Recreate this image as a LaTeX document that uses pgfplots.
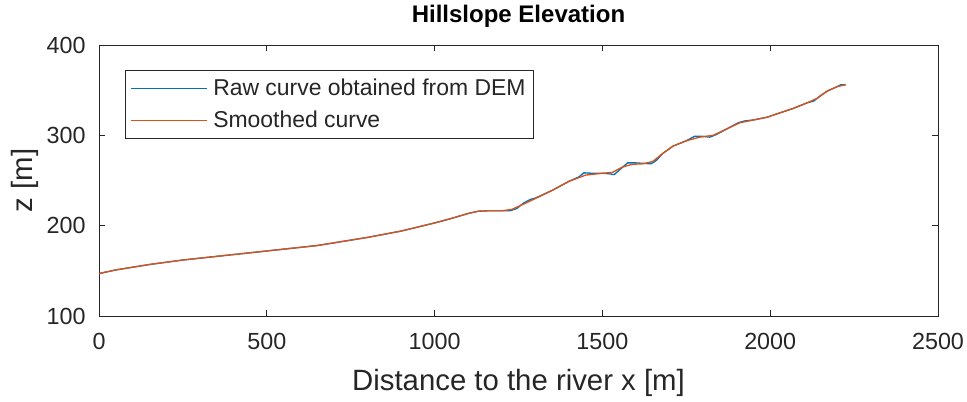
\documentclass[border=0pt]{standalone}
\usepackage{fontspec}
\setmainfont{Liberation Sans}
\usepackage{pgfplots}
\pgfplotsset{compat=1.18}
\definecolor{mblue}{rgb}{0,0.447,0.741}
\definecolor{morange}{rgb}{0.85,0.325,0.098}
\definecolor{mgray}{rgb}{0.15,0.15,0.15}
\begin{document}
\begin{tikzpicture}
\useasboundingbox (-74.25pt,-63.75pt) rectangle (651pt,237pt);
\begin{axis}[
  at={(0pt,0pt)}, anchor=south west,
  scale only axis, width=629.25pt, height=203.25pt,
  xmin=0, xmax=2500, ymin=100, ymax=400,
  xtick={0,500,...,2500}, ytick={100,200,300,400},
  tick align=inside, major tick length=4.5pt,
  axis line style={mgray, line width=0.6pt},
  tick style={mgray, line width=0.6pt},
  /pgf/number format/assume math mode=true,
  /pgf/number format/1000 sep={},
  ticklabel style={font=\fontsize{17.5}{20}\selectfont, text=mgray},
  xticklabel style={yshift=-9.5pt},
  yticklabel style={xshift=-6.5pt},
  xlabel={Distance to the river x [m]},
  ylabel={z [m]},
  xlabel style={font=\fontsize{22}{24}\selectfont, text=mgray, at={(axis description cs:0.5,0)}, anchor=center, yshift=-50.5pt},
  ylabel style={font=\fontsize{22}{24}\selectfont, text=mgray, at={(axis description cs:0,0.5)}, anchor=center, yshift=55.5pt},
  every axis title shift=0pt,
  title={\bfseries Hillslope Elevation},
  title style={font=\fontsize{18}{20}\selectfont, at={(axis description cs:0.5,1)}, anchor=center, yshift=21.5pt},
  legend style={at={(axis description cs:0.031,0.908)}, anchor=north west,
    draw=mgray, line width=0.6pt, font=\fontsize{17.2}{19}\selectfont, text=mgray,
    inner xsep=4pt, inner ysep=4.5pt, row sep=6pt,
    /tikz/every odd column/.append style={column sep=2pt}},
  legend cell align=left,
  legend image code/.code={\draw[#1, line width=0.9pt] (0pt,0pt) -- (57pt,0pt);},
]
\addplot[mblue, line width=1pt] coordinates {
(0,147) (50,151) (100,154) (150,157) (200,159.5) (250,162) (300,164) (350,166)
(400,168) (450,170) (500,172) (550,174) (600,176) (650,178) (700,181) (750,184)
(800,187) (850,190.5) (900,194) (950,198.5) (1000,203) (1050,208) (1100,213.5)
(1130,216) (1160,216.5) (1200,216.5) (1225,216.5) (1245,219) (1265,225) (1285,229)
(1300,230.5) (1350,239) (1400,249) (1430,254) (1445,258.5) (1470,258) (1500,258)
(1520,257.5) (1535,256.5) (1555,263) (1575,269.5) (1600,269.5) (1620,269) (1645,268.5) (1660,272)
(1680,280) (1710,288) (1750,294) (1775,299) (1795,299) (1820,298) (1840,301)
(1870,307) (1905,314) (1925,316) (1950,317) (1990,320) (2030,325) (2070,330) (2110,336)
(2130,338) (2150,344) (2170,349) (2200,354) (2210,356) (2225,356)
};
\addlegendentry{Raw curve obtained from DEM}
\addplot[morange, line width=1pt] coordinates {
(0,147) (50,151) (100,154) (150,157) (200,159.5) (250,162) (300,164) (350,166)
(400,168) (450,170) (500,172) (550,174) (600,176) (650,178) (700,181) (750,184)
(800,187) (850,190.5) (900,194) (950,198.5) (1000,203) (1050,208) (1100,213.5)
(1130,216) (1160,216.5) (1200,216.5) (1230,218) (1260,223) (1300,230) (1350,239)
(1400,249) (1450,256) (1500,258) (1530,259) (1560,265) (1590,268) (1620,268.5)
(1650,271) (1680,280) (1710,288) (1750,294) (1790,298) (1830,300) (1870,307)
(1910,314) (1950,317) (1990,320) (2030,325) (2070,330) (2110,336) (2140,341)
(2170,349) (2200,354) (2225,356)
};
\addlegendentry{Smoothed curve}
\end{axis}
\end{tikzpicture}
\end{document}
